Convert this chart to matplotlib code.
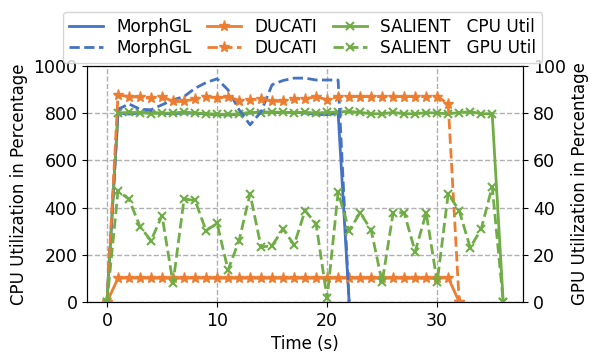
import numpy as np
import matplotlib
matplotlib.use('Agg')
from matplotlib import pyplot as plt

# CPU utilization (left axis, percent of all cores, 0-1000)
morphgl_cpu = [0, 800, 796, 800, 804, 798, 797, 800, 799, 796, 793, 792, 795, 800,
               805, 803, 802, 803, 800, 795, 793, 800, 0]
ducati_cpu = [0, 100, 102, 101, 101, 100, 101, 100, 102, 101, 100, 101, 100, 101,
              100, 101, 100, 101, 100, 101, 100, 101, 101, 100, 101, 100, 101, 100,
              100, 100, 100, 103, 0]
salient_cpu = [0, 800, 803, 802, 798, 800, 800, 805, 800, 798, 795, 794, 797, 803,
               800, 805, 803, 802, 803, 800, 803, 805, 807, 803, 797, 797, 803, 797,
               797, 802, 800, 797, 802, 806, 797, 797, 0]

# GPU utilization (right axis, 0-100)
morphgl_gpu = [0, 81.6, 83.9, 81.6, 81.4, 83.5, 85.6, 87, 90.5, 92.9, 94.5, 89.8,
               81.4, 75, 80.6, 92, 93.8, 94.8, 94.8, 94, 94, 94, 0]
ducati_gpu = [0, 87.7, 87, 86.7, 86.3, 87, 84.9, 84.9, 86, 87, 86.3, 87, 85.3, 85.6,
              86, 85, 85, 86, 86, 87, 85.6, 87, 87, 87, 87, 87, 87, 87, 87, 87, 87,
              83.9, 0]
salient_gpu = [0, 47, 43.5, 31.9, 26, 36.6, 7.9, 43.6, 43, 30.2, 33.3, 13.5, 26,
               45.8, 23.2, 23.9, 30.9, 24.2, 38.7, 33, 1.5, 46.5, 30.2, 37.8, 30.5,
               8.3, 37.8, 37.8, 21.3, 37.8, 8.3, 45.8, 38.7, 23, 30.9, 48.9, 0]

blue = '#4472c4'
orange = '#ed7d31'
green = '#70ad47'

plt.rcParams['font.size'] = 12
plt.rcParams['xtick.labelsize'] = 12.5
plt.rcParams['ytick.labelsize'] = 12.5

fig = plt.figure(figsize=(5.89, 3.54), dpi=100)
ax = fig.add_axes([0.148, 0.147, 0.740, 0.667])
ax2 = ax.twinx()

t_m = np.arange(len(morphgl_cpu))
t_d = np.arange(len(ducati_cpu))
t_s = np.arange(len(salient_cpu))

l1, = ax.plot(t_m, morphgl_cpu, color=blue, lw=2, label='MorphGL')
l3, = ax.plot(t_d, ducati_cpu, color=orange, lw=2, marker='*', ms=8, label='DUCATI')
l5, = ax.plot(t_s, salient_cpu, color=green, lw=2, marker='x', ms=6, mew=1.5,
              label='SALIENT   CPU Util')

l2, = ax2.plot(t_m, morphgl_gpu, color=blue, lw=2, ls='--', label='MorphGL')
l4, = ax2.plot(t_d, ducati_gpu, color=orange, lw=2, ls='--', marker='*', ms=8,
               label='DUCATI')
l6, = ax2.plot(t_s, salient_gpu, color=green, lw=2, ls='--', marker='x', ms=6,
               mew=1.5, label='SALIENT   GPU Util')

ax.set_xlim(-1.8, 37.8)
ax.set_ylim(0, 1000)
ax2.set_ylim(0, 100)
ax.set_xticks([0, 10, 20, 30])
ax.set_yticks([0, 200, 400, 600, 800, 1000])
ax2.set_yticks([0, 20, 40, 60, 80, 100])
ax.grid(True, ls='--', color='#b0b0b0', lw=1)
ax.set_xlabel('Time (s)')
ax.set_ylabel('CPU Utilization in Percentage')
ax2.set_ylabel('GPU Utilization in Percentage')

fig.legend(handles=[l1, l2, l3, l4, l5, l6], ncol=3, loc='upper center',
           bbox_to_anchor=(0.514, 0.99), fontsize=12.2, labelspacing=0.2,
           columnspacing=0.9, handlelength=2.0, handletextpad=0.8, borderpad=0.35)

fig.savefig('out.png', dpi=100)
